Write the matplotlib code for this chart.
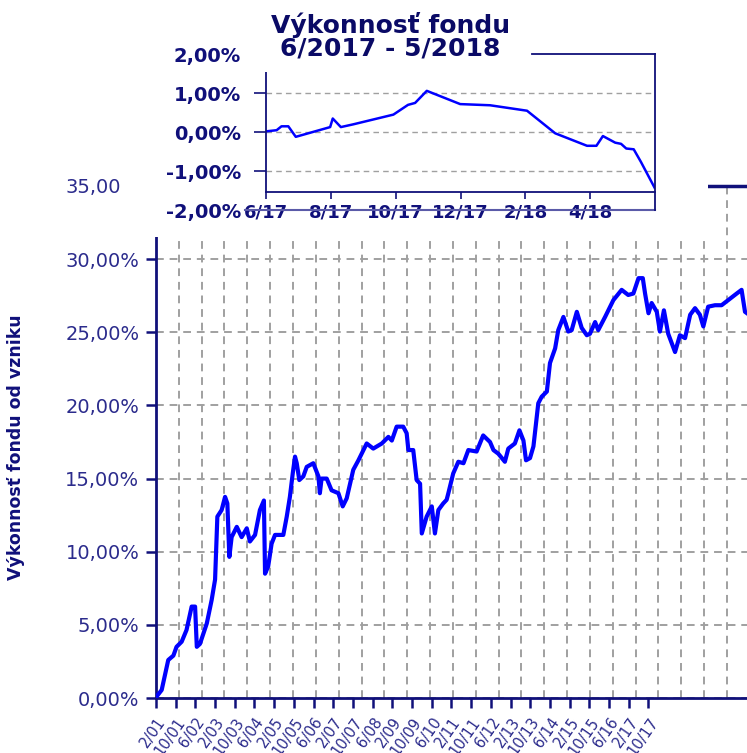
import numpy as np
import matplotlib
matplotlib.use('Agg')
import matplotlib.pyplot as plt
from matplotlib.patches import Rectangle

# hlavny graf: mesiace od 2/2001, vykonnost v %
main_m = [0, 0.2, 2, 4.3, 6.1, 7.2, 9, 10.7, 12.5, 13.7, 14.3, 15.4, 17.8, 19.5, 20.7,
          21.5, 23, 24.2, 25, 25.7, 26.5, 28.3, 30, 31.8, 32.9, 34.7, 36.4, 37.8, 38.2,
          39.3, 40.5, 41.7, 44.6, 45.8, 46.9, 47.9, 48.7, 49.3, 50.2, 51.6, 52.8, 55.1,
          56.9, 57.4, 58, 59.8, 61.5, 63.9, 65.4, 66.8, 69.1, 70.9, 73.8, 76.1, 79.1,
          81.4, 82.6, 84.3, 86.6, 87.8, 88.4, 90.1, 91.3, 92.5, 93.1, 94.8, 96.6, 97.7,
          98.9, 100.6, 101.8, 102.4, 104.1, 105.9, 107.7, 109.4, 112.3, 114.6, 117,
          118.2, 119.9, 122.2, 123.4, 125.7, 127.3, 128.7, 129.6, 131, 132.2, 133.9,
          135.1, 136.9, 138, 139.8, 140.9, 142.7, 144.4, 145.6, 147.4, 149.1, 150.9,
          152, 153.8, 154.9, 157.3, 160.2, 163.1, 165.4, 167.2, 169, 170.5, 171.3,
          172.5, 173.6, 175.4, 176.5, 177.9, 179.4, 181.8, 183.5, 185.3, 187.1, 188.8,
          190.5, 191.7, 193.4, 195.8, 198.1, 200.4, 203.4, 205.1, 206.3, 207]
main_v = [0, 0.1, 0.55, 2.6, 2.9, 3.5, 3.85, 4.65, 6.25, 6.25, 3.5, 3.7, 5.1, 6.7, 8.1,
          12.4, 12.85, 13.75, 13.3, 9.65, 11, 11.7, 11, 11.6, 10.7, 11.15, 12.85, 13.5, 8.5,
          9, 10.55, 11.15, 11.15, 12.4, 13.75, 15.35, 16.5, 16.05, 14.9, 15.15, 15.8, 16.05,
          15.15, 14, 15, 15, 14.2, 14, 13.1, 13.65, 15.6, 16.25, 17.4, 17.05, 17.4,
          17.85, 17.6, 18.55, 18.55, 18.1, 16.95, 16.95, 14.9, 14.65, 11.25, 12.4, 13.1, 11.25,
          12.85, 13.3, 13.55, 14, 15.35, 16.15, 16.05, 16.95, 16.85, 17.95, 17.5,
          16.95, 16.7, 16.15, 17.05, 17.4, 18.3, 17.6, 16.25, 16.4, 17.2, 20.15,
          20.6, 20.95, 22.9, 23.9, 25.15, 26.05, 25.05, 25.15, 26.4, 25.3, 24.8,
          24.9, 25.7, 25.15, 26.05, 27.2, 27.9, 27.55, 27.65, 28.7, 28.7, 27.65,
          26.3, 27, 26.4, 25.05, 26.5, 24.9, 23.65, 24.8, 24.6, 26.2, 26.65,
          26.2, 25.4, 26.75, 26.85, 26.85, 27.2, 27.65, 27.9, 26.4, 26.3]

x_labels = ['2/01', '10/01', '6/02', '2/03', '10/03', '6/04', '2/05', '10/05', '6/06',
            '2/07', '10/07', '6/08', '2/09', '10/09', '6/10', '2/11', '10/11', '6/12',
            '2/13', '10/13', '6/14', '2/15', '10/15', '6/16', '2/17', '10/17']

# maly graf: mesiace od 6/2017
ins_m = [0, 0.33, 0.48, 0.69, 0.92, 1.98, 2.06, 2.31, 2.69, 3.93, 4.38, 4.6, 4.96,
         5.99, 6.91, 8.05, 8.92, 9.9, 10.19, 10.39, 10.77, 10.95, 11.11, 11.34, 11.56, 11.98]
ins_v = [0.02, 0.05, 0.15, 0.15, -0.12, 0.13, 0.35, 0.13, 0.2, 0.45, 0.7, 0.75, 1.06,
         0.72, 0.69, 0.55, -0.03, -0.35, -0.35, -0.1, -0.27, -0.3, -0.42, -0.44, -0.76, -1.42]
ins_ticks = [0, 2, 4, 6, 8, 10]
ins_labels = ['6/17', '8/17', '10/17', '12/17', '2/18', '4/18']

NAVY = '#10107a'
TXT = '#2b2b8c'
GRID = '#a0a0a0'


def pct(v):
    return f'{v:.2f}'.replace('.', ',') + '%'


fig = plt.figure(figsize=(7.47, 7.53), dpi=100)

ax = fig.add_axes([0.2088, 0.073, 0.7912, 0.680])
ax.plot(main_m, main_v, color='#0000ff', lw=3.0, zorder=3)
ax.set_xlim(0, 207)
ax.set_ylim(0, 35)
yt = np.arange(0, 36, 5)
ax.set_yticks(yt)
ax.set_yticklabels([pct(v) for v in yt], fontsize=14, color=TXT)
ax.set_xticks(np.arange(len(x_labels)) * 6.9)
ax.set_xticklabels(x_labels, rotation=55, ha='right', rotation_mode='anchor',
                   fontsize=10.5, color=TXT)
ax.set_xticks(np.arange(8, 207, 8), minor=True)
ax.tick_params(which='major', direction='out', length=7, width=1.8, color=NAVY, pad=5)
ax.tick_params(which='minor', length=0)
ax.grid(which='major', axis='y', color=GRID, ls=(0, (4, 3)), lw=1.4)
ax.grid(which='minor', axis='x', color=GRID, ls=(0, (4, 3)), lw=1.4)
for s in ['left', 'bottom']:
    ax.spines[s].set_color(NAVY)
    ax.spines[s].set_linewidth(2)
ax.spines['top'].set_color(NAVY)
ax.spines['top'].set_linewidth(2.5)
ax.spines['top'].set_linestyle((0, (4, 1)))
ax.spines['right'].set_visible(False)
ax.set_ylabel('Výkonnosť fondu od vzniku', fontsize=12.5, fontweight='bold', color=NAVY)
ax.yaxis.set_label_coords(-0.222, 0.49)

# biela plocha pod malym grafom
fig.patches.append(Rectangle((0.1606, 0.685), 0.787, 0.315, transform=fig.transFigure,
                             facecolor='white', edgecolor='none', zorder=1))

ins = fig.add_axes([0.356, 0.721, 0.521, 0.207])
ins.set_zorder(2)
# najprv pozicia osi (set_position resetuje ticky)
ins.spines['bottom'].set_position(('data', -1.54))
ins.spines['left'].set_bounds(-1.54, 1.67)
ins.spines['top'].set_bounds(8.2, 12)
ins.spines['top'].set_linestyle((0, (4, 1)))
for s in ins.spines.values():
    s.set_color(NAVY)
    s.set_linewidth(1.3)

ins.plot(ins_m, ins_v, color='#0000ff', lw=1.8)
ins.set_xlim(0, 12)
ins.set_ylim(-2, 2)
iyt = [-2, -1, 0, 1, 2]
ins.set_yticks(iyt)
ins.set_yticklabels([pct(v) for v in iyt], fontsize=14, fontweight='bold', color=NAVY)
ins.set_xticks(ins_ticks)
ins.set_xticklabels(ins_labels, fontsize=13, fontweight='bold', color=NAVY)
ins.tick_params(axis='y', direction='out', length=9, width=1.2, color=NAVY, pad=9)
ins.tick_params(axis='x', direction='out', length=5, width=1.2, color=NAVY, pad=3)
ins.grid(axis='y', color=GRID, ls=(0, (4, 3)), lw=1)
for i, t in enumerate(ins.yaxis.get_major_ticks()):
    if iyt[i] in (-2, 2):
        t.tick1line.set_visible(False)
        t.gridline.set_visible(False)
ins.axhline(-2, xmin=-0.054, xmax=1, color='#5a5aa8', lw=1.5, clip_on=False)

fig.text(0.523, 0.952, 'Výkonnosť fondu\n6/2017 - 5/2018', ha='center', va='center',
         fontsize=18, fontweight='bold', color='#0a0a66', linespacing=0.95,
         bbox=dict(boxstyle='square,pad=0.45', facecolor='white', edgecolor='none'))

fig.savefig('out.png', dpi=100)
